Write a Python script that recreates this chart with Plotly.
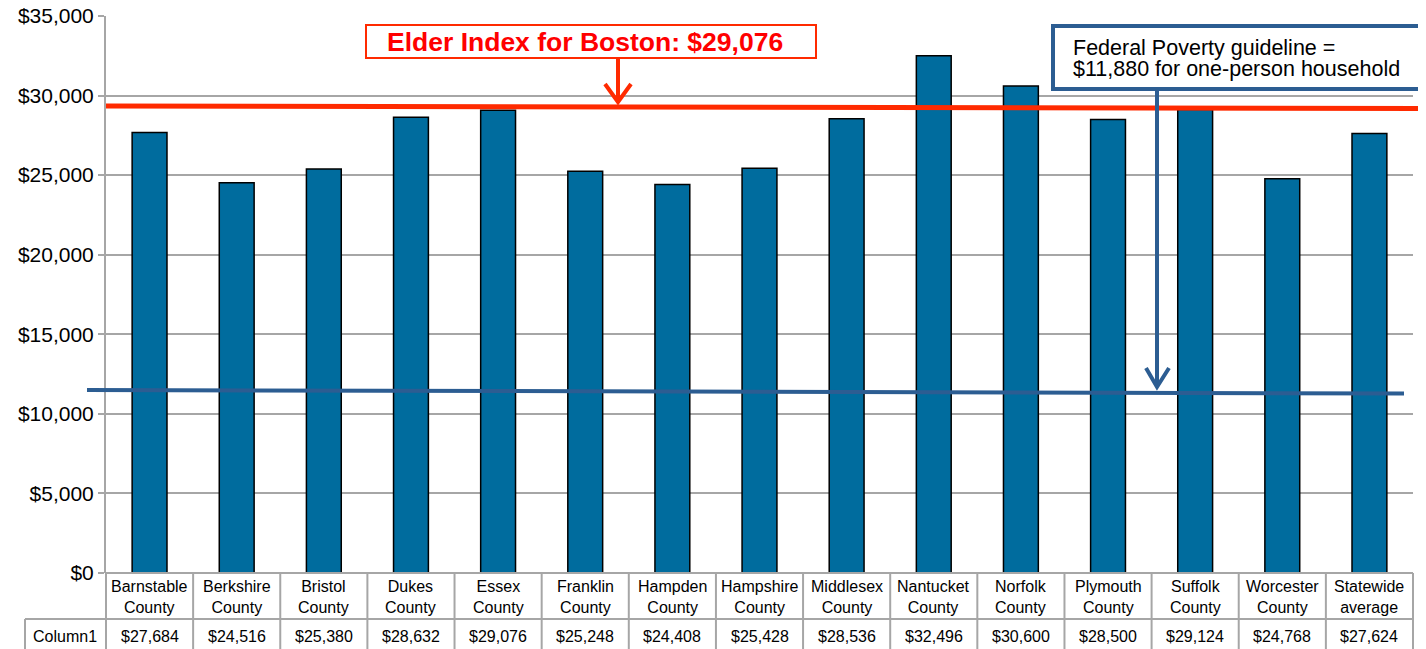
import plotly.graph_objects as go

# ---------------------------------------------------------------- data
counties = ['Barnstable<br>County', 'Berkshire<br>County', 'Bristol<br>County', 'Dukes<br>County',
            'Essex<br>County', 'Franklin<br>County', 'Hampden<br>County', 'Hampshire<br>County',
            'Middlesex<br>County', 'Nantucket<br>County', 'Norfolk<br>County', 'Plymouth<br>County',
            'Suffolk<br>County', 'Worcester<br>County', 'Statewide<br>average']
elder_index = [27684, 24516, 25380, 28632, 29076, 25248, 24408, 25428,
               28536, 32496, 30600, 28500, 29124, 24768, 27624]
series_name = 'Column1'

# reference lines as drawn on the slide (slightly tilted)
elder_line = (29345, 29190)
poverty_line = (11500, 11280)

RED = '#ff2a00'
BLUE = '#2c5d92'
BAR = '#006c9e'
GRID = '#a6a6a6'

W, H = 1426, 649
OFF = 8  # page body margin
# plot area in screen pixels
X0, X1, Y0, Y1 = 106, 1413, 16, 573
PW, PH = X1 - X0, Y1 - Y0


def px(x):
    # screen pixel -> paper x
    return (x - X0) / PW


def py(y):
    # screen pixel -> paper y
    return (Y1 - y) / PH


fig = go.Figure()
fig.add_trace(go.Bar(
    x=list(range(len(counties))),
    y=elder_index,
    width=0.4,
    marker=dict(color=BAR, line=dict(color='black', width=1.5)),
    name=series_name,
    hovertemplate='%{y:$,d}<extra></extra>',
))

shapes = []
annotations = []

# ---------------------------------------------------------------- data table under the chart
n = len(counties)
row1 = py(619)
bottom = -0.3
for i in range(n + 1):
    shapes.append(dict(type='line', xref='paper', yref='paper', x0=i / n, x1=i / n,
                       y0=0, y1=bottom, line=dict(color=GRID, width=2)))
shapes.append(dict(type='line', xref='paper', yref='paper', x0=0, x1=1, y0=0, y1=0,
                   line=dict(color=GRID, width=2)))
shapes.append(dict(type='line', xref='paper', yref='paper', x0=px(25), x1=1, y0=row1, y1=row1,
                   line=dict(color=GRID, width=2)))
shapes.append(dict(type='line', xref='paper', yref='paper', x0=px(25), x1=px(25), y0=row1, y1=bottom,
                   line=dict(color=GRID, width=2)))

for i, (c, v) in enumerate(zip(counties, elder_index)):
    annotations.append(dict(x=i, y=py(597), xref='x', yref='paper', text=c, showarrow=False,
                            font=dict(size=16, color='black'), yanchor='middle'))
    annotations.append(dict(x=i, y=py(636), xref='x', yref='paper', text=f'${v:,}', showarrow=False,
                            font=dict(size=16, color='black'), yanchor='middle'))
annotations.append(dict(x=px(65), y=py(636), xref='paper', yref='paper', text=series_name,
                        showarrow=False, font=dict(size=16, color='black'),
                        xanchor='center', yanchor='middle'))

# ---------------------------------------------------------------- elder index line + callout
shapes.append(dict(type='line', xref='paper', yref='y', x0=0, x1=1.02,
                   y0=elder_line[0], y1=elder_line[1], line=dict(color=RED, width=5), layer='above'))
shapes.append(dict(type='rect', xref='paper', yref='paper', x0=px(366), x1=px(816), y0=py(25), y1=py(58),
                   line=dict(color=RED, width=2), fillcolor='white'))
annotations.append(dict(x=px(585), y=py(41.5), xref='paper', yref='paper',
                        text='<b>Elder Index for Boston: $29,076</b>', showarrow=False,
                        font=dict(size=26.5, color='#ff0000'), xanchor='center', yanchor='middle'))
shapes.append(dict(type='line', xref='paper', yref='paper', x0=px(618), x1=px(618), y0=py(58), y1=py(101),
                   line=dict(color=RED, width=4)))
shapes.append(dict(type='path', xref='paper', yref='paper',
                   path=f'M {px(605)} {py(84)} L {px(618)} {py(102)} L {px(631)} {py(84)}',
                   line=dict(color=RED, width=4)))

# ---------------------------------------------------------------- poverty line + callout
shapes.append(dict(type='line', xref='paper', yref='y', x0=px(87), x1=px(1404),
                   y0=poverty_line[0], y1=poverty_line[1], line=dict(color=BLUE, width=4), layer='above'))
shapes.append(dict(type='line', xref='paper', yref='paper', x0=px(1157), x1=px(1157), y0=py(91), y1=py(386),
                   line=dict(color=BLUE, width=4)))
shapes.append(dict(type='path', xref='paper', yref='paper',
                   path=f'M {px(1146)} {py(368)} L {px(1157)} {py(387)} L {px(1169)} {py(368)}',
                   line=dict(color=BLUE, width=4)))
shapes.append(dict(type='rect', xref='paper', yref='paper', x0=px(1053), x1=px(1420), y0=py(26), y1=py(89),
                   line=dict(color=BLUE, width=4), fillcolor='white'))
annotations.append(dict(x=px(1071), y=py(48), xref='paper', yref='paper',
                        text='Federal Poverty guideline =', showarrow=False, xanchor='left',
                        yanchor='middle', font=dict(size=21.5, color='black')))
annotations.append(dict(x=px(1071), y=py(69), xref='paper', yref='paper',
                        text='$11,880 for one-person household', showarrow=False, xanchor='left',
                        yanchor='middle', font=dict(size=21.5, color='black')))

fig.update_layout(
    width=W, height=H,
    margin=dict(l=X0 - OFF, r=W - (X1 - OFF), t=Y0 - OFF, b=H - (Y1 - OFF), autoexpand=False),
    plot_bgcolor='white',
    paper_bgcolor='white',
    font=dict(family='Liberation Sans, Arial, sans-serif', color='black'),
    showlegend=False,
    shapes=shapes,
    annotations=annotations,
    xaxis=dict(range=[-0.5, n - 0.5], showticklabels=False, showgrid=False, zeroline=False,
               ticks='', showline=False, fixedrange=True, automargin=False),
    yaxis=dict(range=[0, 35000], dtick=5000, tickprefix='$', tickformat=',d',
               tickfont=dict(size=21, color='black'), showgrid=True, gridcolor=GRID, gridwidth=2,
               zeroline=False, showline=True, linecolor=GRID, linewidth=2, automargin=False,
               ticklabeloverflow='allow',
               ticks='outside', ticklen=6, tickcolor=GRID, tickwidth=2, fixedrange=True),
)

fig.write_html('out.html')
